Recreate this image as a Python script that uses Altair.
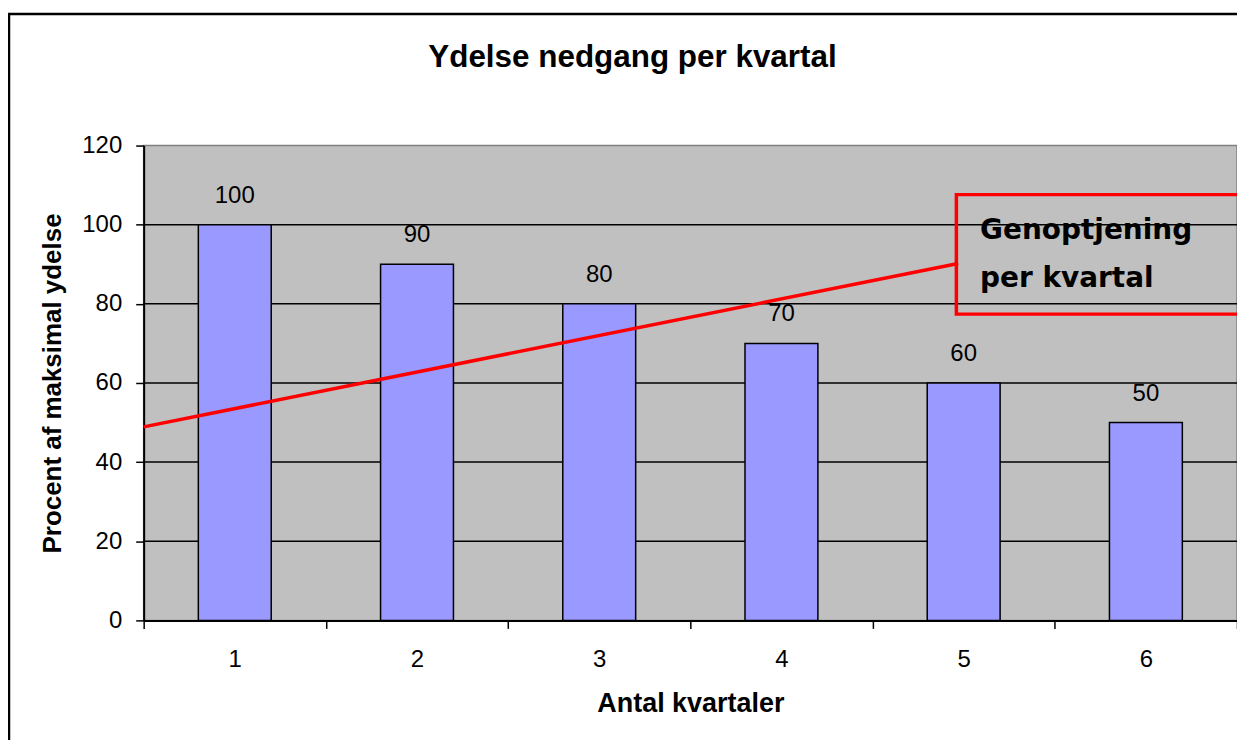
import altair as alt
import pandas as pd

# ---- data ----
quarters = [1, 2, 3, 4, 5, 6]
values = [100, 90, 80, 70, 60, 50]
grid_levels = [20, 40, 60, 80, 100]
x_ticks = [0.5, 1.5, 2.5, 3.5, 4.5, 5.5, 6.5]
trend_x = [0.5, 4.97]
trend_y = [48.9, 90.2]
box_x = [4.96, 6.65]
box_y = [77.4, 107.6]
note_lines = ["Genoptjening", "per kvartal"]
note_x = [5.09, 5.09]
note_y = [96.5, 84.2]

title_text = "Ydelse nedgang per kvartal"
x_title = "Antal kvartaler"
y_title = "Procent af maksimal ydelse"

FONT = "Liberation Sans"
W, H = 1096, 476

bars_df = pd.DataFrame({"q": quarters, "v": values})
bars_df["q0"] = bars_df["q"] - 0.2
bars_df["q1"] = bars_df["q"] + 0.2
bars_df["base"] = 0
grid_df = pd.DataFrame({"g": grid_levels})
trend_df = pd.DataFrame({"x": trend_x, "y": trend_y})
box_df = pd.DataFrame({"x": [box_x[0]], "x2": [box_x[1]], "y": [box_y[0]], "y2": [box_y[1]]})
note_df = pd.DataFrame({"t": note_lines, "x": note_x, "y": note_y})
one = pd.DataFrame({"a": [0]})

xs = alt.Scale(domain=[0.5, 6.5], nice=False, zero=False)
ys = alt.Scale(domain=[0, 120], nice=False, zero=True)

x_axis = alt.Axis(
    values=x_ticks,
    labelExpr="datum.value < 6 ? format(datum.value + 0.5, 'd') : ''",
    labelOffset=W / 12,
    labelFlush=False,
    labelOverlap=False,
    labelFontSize=24,
    labelFont=FONT,
    labelColor="black",
    labelBaseline="alphabetic",
    labelPadding=38,
    tickSize=8,
    tickColor="black",
    tickWidth=1.5,
    domainColor="black",
    domainWidth=2,
    grid=False,
    title=x_title,
    titleFont=FONT,
    titleFontSize=27,
    titleFontWeight="bold",
    titleColor="black",
    titleBaseline="middle",
    titleY=83,
)
y_axis = alt.Axis(
    values=[0, 20, 40, 60, 80, 100, 120],
    labelFontSize=24,
    labelFont=FONT,
    labelColor="black",
    labelPadding=14,
    tickSize=8,
    tickColor="black",
    tickWidth=1.5,
    domainColor="black",
    domainWidth=2,
    grid=False,
    title=y_title,
    titleFont=FONT,
    titleFontSize=26,
    titleFontWeight="bold",
    titleColor="black",
    titleAngle=270,
    titleAlign="center",
    titleBaseline="middle",
    titleX=-91,
    titleY=H / 2,
)

grid = alt.Chart(grid_df).mark_rule(color="black", strokeWidth=1.5).encode(
    y=alt.Y("g:Q", scale=ys, axis=y_axis)
)

bars = alt.Chart(bars_df).mark_bar(
    color="#9999FF", stroke="black", strokeWidth=1.5
).encode(
    x=alt.X("q0:Q", scale=xs, axis=x_axis),
    x2="q1:Q",
    y=alt.Y("v:Q", scale=ys, axis=y_axis),
    y2="base:Q",
)

labels = alt.Chart(bars_df).mark_text(
    fontSize=24, font=FONT, color="black", baseline="alphabetic", dy=-22
).encode(
    x=alt.X("q:Q", scale=xs),
    y=alt.Y("v:Q", scale=ys),
    text="v:Q",
)

trend = alt.Chart(trend_df).mark_line(color="#FF0000", strokeWidth=3.5).encode(
    x=alt.X("x:Q", scale=xs),
    y=alt.Y("y:Q", scale=ys),
)

box = alt.Chart(box_df).mark_rect(
    fillOpacity=0, stroke="#FF0000", strokeWidth=3.5
).encode(
    x=alt.X("x:Q", scale=xs),
    x2="x2:Q",
    y=alt.Y("y:Q", scale=ys),
    y2="y2:Q",
)

note = alt.Chart(note_df).mark_text(
    font="DejaVu Sans", fontWeight="bold", fontSize=28, color="black",
    align="left", baseline="alphabetic"
).encode(
    x=alt.X("x:Q", scale=xs),
    y=alt.Y("y:Q", scale=ys),
    text="t:N",
)

title = alt.Chart(one).mark_text(
    text=title_text, font=FONT, fontSize=31.5, fontWeight="bold", color="black",
    align="center", baseline="alphabetic"
).encode(x=alt.value(490), y=alt.value(-79))

border = alt.Chart(one).mark_rect(
    fillOpacity=0, stroke="black", strokeWidth=2.5
).encode(
    x=alt.value(-135), x2=alt.value(1140), y=alt.value(-132), y2=alt.value(640)
)

chart = alt.layer(grid, bars, labels, trend, box, note, title, border).properties(
    width=W,
    height=H,
    autosize=alt.AutoSizeParams(type="none"),
    padding={"left": 136, "top": 137, "right": 0, "bottom": 119},
    background="white",
).configure_view(
    fill="#C0C0C0", stroke="#808080", strokeWidth=1.5
)

chart.save("out.html", embed_options={"renderer": "svg", "actions": False})
